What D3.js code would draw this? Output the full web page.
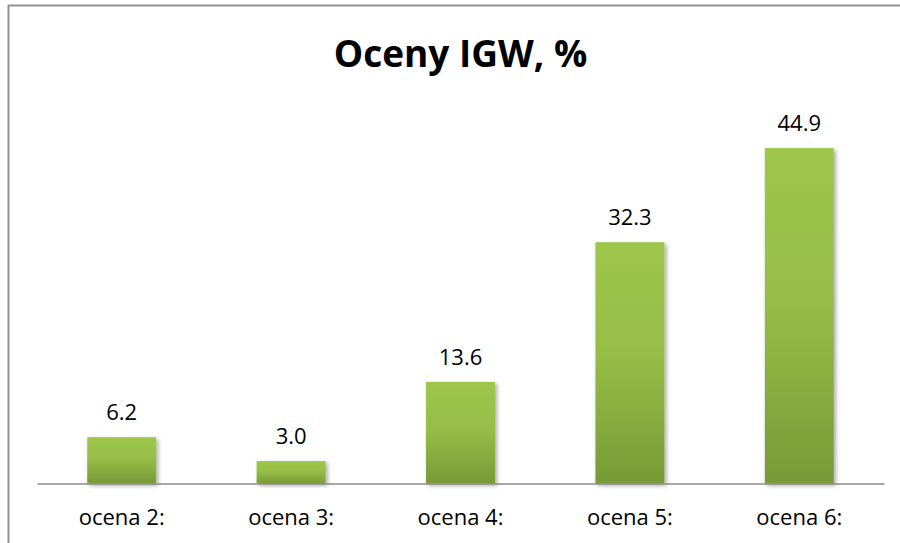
<!DOCTYPE html>
<html>
<head>
<meta charset="utf-8">
<script src="https://cdn.jsdelivr.net/npm/d3@7"></script>
<style>
  body { margin: 0; background: #fff; }
  svg { display: block; }
  text { font-family: "Open Sans", Calibri, sans-serif; fill: #000; }
</style>
</head>
<body>
<div id="chart"></div>
<script>
// chart data
var categories = ["ocena 2:", "ocena 3:", "ocena 4:", "ocena 5:", "ocena 6:"];
var values = [6.2, 3.0, 13.6, 32.3, 44.9];
var chartTitle = "Oceny IGW, %";

var W = 900, H = 543;
var margin = { top: 110, right: 16, bottom: 59.5, left: 37 },
    width = W - margin.left - margin.right,
    height = H - margin.top - margin.bottom;

var root = d3.select("#chart").append("svg")
    .attr("width", W)
    .attr("height", H);

var defs = root.append("defs");
var grad = defs.append("linearGradient")
    .attr("id", "barGrad")
    .attr("x1", 0).attr("y1", 0).attr("x2", 0).attr("y2", 1);
grad.append("stop").attr("offset", "0%").attr("stop-color", "#9dc64b");
grad.append("stop").attr("offset", "45%").attr("stop-color", "#96be47");
grad.append("stop").attr("offset", "100%").attr("stop-color", "#789a37");

var shadow = defs.append("filter")
    .attr("id", "shadow")
    .attr("x", "-20%").attr("y", "-20%").attr("width", "140%").attr("height", "140%");
shadow.append("feDropShadow")
    .attr("dx", 2).attr("dy", 2)
    .attr("stdDeviation", 2)
    .attr("flood-color", "#000")
    .attr("flood-opacity", 0.35);

// outer frame (runs off the page to the right and bottom)
root.append("rect")
    .attr("x", 8.5).attr("y", 5.5)
    .attr("width", W + 20).attr("height", H + 20)
    .attr("fill", "none")
    .attr("stroke", "#939393")
    .attr("stroke-width", 2);

root.append("text")
    .attr("x", margin.left + width / 2)
    .attr("y", 67)
    .attr("text-anchor", "middle")
    .style("font-size", "37px")
    .style("font-weight", "bold")
    .text(chartTitle);

var svg = root.append("g")
    .attr("transform", "translate(" + margin.left + "," + margin.top + ")");

var x = d3.scaleBand()
    .domain(categories)
    .range([0, width])
    .paddingInner(0.593)
    .paddingOuter(0.2965);

var y = d3.scaleLinear()
    .domain([0, 50])
    .range([height, 0]);

// bars
svg.append("g")
    .selectAll("rect")
    .data(values)
    .enter()
    .append("rect")
    .attr("x", function (d, i) { return x(categories[i]); })
    .attr("y", function (d) { return y(d); })
    .attr("width", x.bandwidth())
    .attr("height", function (d) { return height - y(d); })
    .attr("fill", "url(#barGrad)")
    .attr("filter", "url(#shadow)");

// value labels
svg.append("g")
    .selectAll("text")
    .data(values)
    .enter()
    .append("text")
    .attr("x", function (d, i) { return x(categories[i]) + x.bandwidth() / 2; })
    .attr("y", function (d) { return y(d) - 17; })
    .attr("text-anchor", "middle")
    .style("font-size", "22px")
    .text(function (d) { return d.toFixed(1); });

// x axis
var xAxis = svg.append("g")
    .attr("transform", "translate(0," + height + ")")
    .call(d3.axisBottom(x).tickSize(0).tickPadding(26));
xAxis.select(".domain")
    .attr("stroke", "#8a8a8a")
    .attr("stroke-width", 1.5);
xAxis.selectAll("text")
    .style("font-family", "'Open Sans', Calibri, sans-serif")
    .style("font-size", "22px")
    .attr("fill", "#000");
</script>
</body>
</html>
